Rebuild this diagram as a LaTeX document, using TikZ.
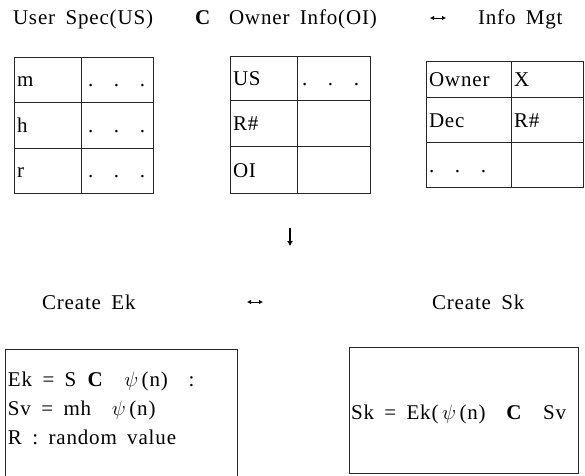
\documentclass[tikz,border=0pt]{standalone}
\usepackage{fontspec}
\setmainfont{Liberation Serif}[LetterSpace=4,WordSpace=1.7]
\usetikzlibrary{arrows.meta}
\begin{document}
\begin{tikzpicture}[x=1pt,y=-1pt,
  every node/.style={inner sep=0pt,outer sep=0pt,anchor=base west,font=\fontsize{21}{25}\selectfont},
  grid/.style={line width=0.8pt,draw=black!85},
  sym/.style={anchor=base},
  pair/.style={line width=0.7pt,{Latex[length=4pt,width=4.5pt]}-{Latex[length=4pt,width=4.5pt]}},
  down/.style={line width=1.4pt,-{Latex[length=5pt,width=6pt]}}]
\useasboundingbox (0,0) rectangle (585,475);

% headings
\node (us) at (13,24) {User Spec(US)};
\node[sym] (c1) at (203,24) {\textbf{C}};
\node (oi) at (229,24) {Owner Info(OI)};
\coordinate (lr1a) at (430,18);
\coordinate (lr1b) at (446,18);
\draw[pair] (lr1a) -- (lr1b);
\node (im) at (478,24) {Info Mgt};

% User Spec table
\draw[grid] (14,57) rectangle (153,193);
\draw[grid] (81,57) -- (81,193);
\draw[grid] (14,102) -- (153,102) (14,148) -- (153,148);
\node (m) at (17,86) {m};
\node (h) at (17,132) {h};
\node (r) at (17,177) {r};
\node (d1) at (88,86) {.\ \ .\ \ .};
\node (d2) at (88,132) {.\ \ .\ \ .};
\node (d3) at (88,177) {.\ \ .\ \ .};

% Owner Info table
\draw[grid] (230,56) rectangle (370,193);
\draw[grid] (297,56) -- (297,193);
\draw[grid] (230,100) -- (370,100) (230,146) -- (370,146);
\node (t2a) at (233,85) {US};
\node (t2b) at (302,85) {.\ \ .\ \ .};
\node (t2c) at (233,130) {R\#};
\node (t2d) at (233,177) {OI};

% Info Mgt table
\draw[grid] (426,61) rectangle (583,187);
\draw[grid] (511,61) -- (511,187);
\draw[grid] (426,97) -- (583,97) (426,142) -- (583,142);
\node (t3a) at (429,86) {Owner};
\node (t3b) at (514,86) {X};
\node (t3c) at (429,127) {Dec};
\node (t3d) at (514,127) {R\#};
\node (t3e) at (429,172) {.\ \ .\ \ .};

% flow
\coordinate (dtop) at (290,228);
\coordinate (dbot) at (290,246);
\draw[down] (dtop) -- (dbot);

\node (cek) at (42,309) {Create Ek};
\coordinate (lr2a) at (247,302);
\coordinate (lr2b) at (263,302);
\draw[pair] (lr2a) -- (lr2b);
\node (csk) at (432,309) {Create Sk};

% Ek box (continues below the lower edge)
\draw[grid] (5,480) -- (5,349) -- (237,349) -- (237,480);
\node (e1) at (8,386) {Ek = S \textbf{C}\ \ $\psi$\,(n)\ \ :};
\node (e2) at (8,415) {Sv = mh\ \ $\psi$\,(n)};
\node (e3) at (8,444) {R : random value};

% Sk box
\draw[grid] (349,347) rectangle (578,473);
\node (s1) at (351,419) {Sk = Ek(\,$\psi$\,(n)\ \ \textbf{C}\ \ Sv};
\end{tikzpicture}
\end{document}
